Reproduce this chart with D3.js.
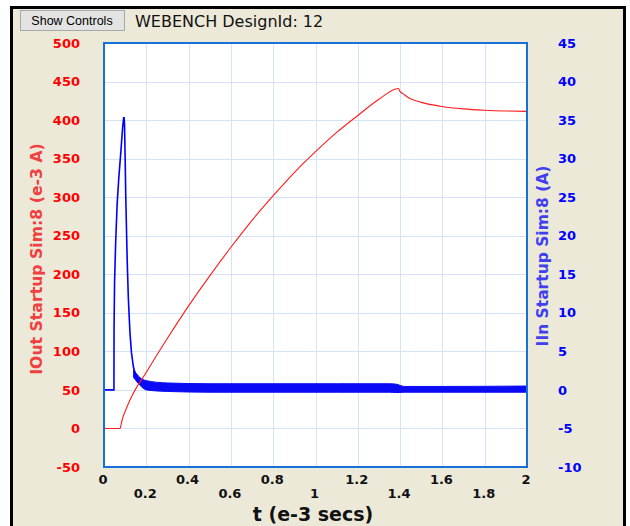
<!DOCTYPE html>
<html>
<head>
<meta charset="utf-8">
<script src="https://cdn.jsdelivr.net/npm/d3@7"></script>
<style>
  body { margin: 0; background: #fff; }
  text { font-family: "DejaVu Sans", Verdana, sans-serif; }
</style>
</head>
<body>
<script>
// IOut startup (left axis, e-3 A)
const redTime = [0, 0.076, 0.08, 0.085, 0.09, 0.1, 0.115, 0.13, 0.2, 0.3, 0.4, 0.5, 0.6, 0.7, 0.8, 0.9, 1.0, 1.1, 1.2, 1.3, 1.392, 1.40, 1.415, 1.44, 1.5, 1.59, 1.7, 1.8, 1.9, 2.0];
const ioutVals = [0, 0, 4, 10, 15, 22, 32, 41, 73, 117, 159, 198, 235, 270, 302, 332, 359, 384, 406, 427, 441, 437, 434, 429, 423, 418, 414.5, 412.8, 411.8, 411.3];

// IIn startup spike (right axis, A)
const blueTime = [0, 0.047, 0.0475, 0.05, 0.055, 0.062, 0.07, 0.08, 0.088, 0.093, 0.095, 0.097, 0.1, 0.103, 0.107, 0.11, 0.115, 0.12, 0.123, 0.13, 0.139, 0.15, 0.162, 0.18];
const iinVals = [0, 0, 8, 14, 19, 24, 27.5, 31, 34, 35.3, 35.3, 34.5, 30, 25, 20, 16.5, 12, 9, 7.3, 4.8, 3.0, 1.8, 1.0, 0.6];

// switching ripple envelope of IIn after the spike
const rippleTime = [0.14, 0.17, 0.2, 0.3, 0.5, 0.8, 1.1, 1.35, 1.38, 1.42, 1.6, 2.0];
const rippleHi = [2.6, 1.6, 1.2, 0.9, 0.8, 0.8, 0.8, 0.8, 0.75, 0.45, 0.45, 0.5];
const rippleLo = [1.6, 0.6, 0.0, -0.2, -0.3, -0.3, -0.3, -0.3, -0.35, -0.3, -0.3, -0.3];

const xTicks = [0, 0.2, 0.4, 0.6, 0.8, 1, 1.2, 1.4, 1.6, 1.8, 2];
const leftTicks = [-50, 0, 50, 100, 150, 200, 250, 300, 350, 400, 450, 500];
const rightTicks = [-10, -5, 0, 5, 10, 15, 20, 25, 30, 35, 40, 45];

const W = 630, H = 526;
const plot = {left: 104, right: 527, top: 43, bottom: 467};

const svg = d3.select('body').append('svg')
    .attr('width', W).attr('height', H);

// panel frame
svg.append('rect').attr('x', 11.5).attr('y', 7.5).attr('width', 613).attr('height', 520)
    .attr('fill', '#ece9d8').attr('stroke', '#000').attr('stroke-width', 3);

// button
svg.append('rect').attr('x', 20.5).attr('y', 10.5).attr('width', 104).attr('height', 20)
    .attr('fill', '#e3e3e3').attr('stroke', '#a8a8a8');
svg.append('text').attr('x', 72).attr('y', 25)
    .attr('text-anchor', 'middle')
    .style('font-family', '"Liberation Sans", Arial, sans-serif')
    .attr('font-size', '12.5px').text('Show Controls');

svg.append('text').attr('x', 135).attr('y', 27)
    .attr('font-size', '16px').attr('fill', '#111')
    .text('WEBENCH DesignId: 12');

let x = d3.scaleLinear().domain([0, 2]).range([plot.left, plot.right]);
let yL = d3.scaleLinear().domain([-50, 500]).range([plot.bottom, plot.top]);
let yR = d3.scaleLinear().domain([-10, 45]).range([plot.bottom, plot.top]);

svg.append('rect')
    .attr('x', plot.left).attr('y', plot.top)
    .attr('width', plot.right - plot.left).attr('height', plot.bottom - plot.top)
    .attr('fill', '#fff');

// grid
let grid = svg.append('g').attr('stroke', '#d4e3f5').attr('stroke-width', 1);
grid.selectAll('line.v').data(xTicks.slice(1, -1)).enter().append('line')
    .attr('x1', d => Math.round(x(d)) + 0.5).attr('x2', d => Math.round(x(d)) + 0.5)
    .attr('y1', plot.top).attr('y2', plot.bottom);
grid.selectAll('line.h').data(leftTicks.slice(1, -1)).enter().append('line')
    .attr('y1', d => Math.round(yL(d)) + 0.5).attr('y2', d => Math.round(yL(d)) + 0.5)
    .attr('x1', plot.left).attr('x2', plot.right);

svg.append('clipPath').attr('id', 'clip').append('rect')
    .attr('x', plot.left).attr('y', plot.top)
    .attr('width', plot.right - plot.left).attr('height', plot.bottom - plot.top);

let lines = svg.append('g').attr('clip-path', 'url(#clip)');

// IIn ripple band
let band = d3.area()
    .x((d, i) => x(rippleTime[i]))
    .y0((d, i) => yR(rippleLo[i]))
    .y1((d, i) => yR(rippleHi[i]))
    .curve(d3.curveMonotoneX);
lines.append('path').datum(rippleTime)
    .attr('d', band)
    .attr('fill', '#0a0af5')
    .attr('stroke', '#0a0af5').attr('stroke-width', 1);

// IIn spike
let blueLine = d3.line()
    .x((d, i) => x(blueTime[i]))
    .y(d => yR(d));
lines.append('path').datum(iinVals)
    .attr('d', blueLine)
    .attr('fill', 'none').attr('stroke', '#0000ff').attr('stroke-width', 1.6);

// IOut
let redLine = d3.line()
    .x((d, i) => x(redTime[i]))
    .y(d => yL(d))
    .curve(d3.curveMonotoneX);
lines.append('path').datum(ioutVals)
    .attr('d', redLine)
    .attr('fill', 'none').attr('stroke', '#ff1a1a').attr('stroke-width', 1.1);

// plot border
svg.append('rect')
    .attr('x', plot.left).attr('y', plot.top)
    .attr('width', plot.right - plot.left).attr('height', plot.bottom - plot.top)
    .attr('fill', 'none').attr('stroke', '#1670d8').attr('stroke-width', 2);

// left tick labels
svg.append('g').selectAll('text').data(leftTicks).enter().append('text')
    .attr('x', 80).attr('y', d => yL(d)).attr('dy', '0.36em')
    .attr('text-anchor', 'end')
    .attr('font-size', '13px').attr('font-weight', 'bold').attr('fill', '#ff0000')
    .text(d => d);

// right tick labels
svg.append('g').selectAll('text').data(rightTicks).enter().append('text')
    .attr('x', 558).attr('y', d => yR(d)).attr('dy', '0.36em')
    .attr('text-anchor', 'start')
    .attr('font-size', '13px').attr('font-weight', 'bold').attr('fill', '#0000ff')
    .text(d => d);

// x tick labels, staggered in two rows
svg.append('g').selectAll('text').data(xTicks).enter().append('text')
    .attr('x', d => x(d) - 1)
    .attr('y', (d, i) => i % 2 === 0 ? 479 : 493).attr('dy', '0.36em')
    .attr('text-anchor', 'middle')
    .attr('font-size', '13px').attr('font-weight', 'bold').attr('fill', '#111')
    .text(d => d);

// axis titles
svg.append('text').attr('x', 313).attr('y', 521)
    .attr('text-anchor', 'middle')
    .attr('font-size', '19px').attr('font-weight', 'bold').attr('fill', '#111')
    .text('t (e-3 secs)');

svg.append('text')
    .attr('transform', 'translate(42,259) rotate(-90)')
    .attr('text-anchor', 'middle')
    .attr('font-size', '15.7px').attr('font-weight', 'bold').attr('fill', '#f04040')
    .text('IOut Startup Sim:8 (e-3 A)');

svg.append('text')
    .attr('transform', 'translate(548,256) rotate(-90)')
    .attr('text-anchor', 'middle')
    .attr('font-size', '15.5px').attr('font-weight', 'bold').attr('fill', '#4040f0')
    .text('IIn Startup Sim:8 (A)');
</script>
</body>
</html>
